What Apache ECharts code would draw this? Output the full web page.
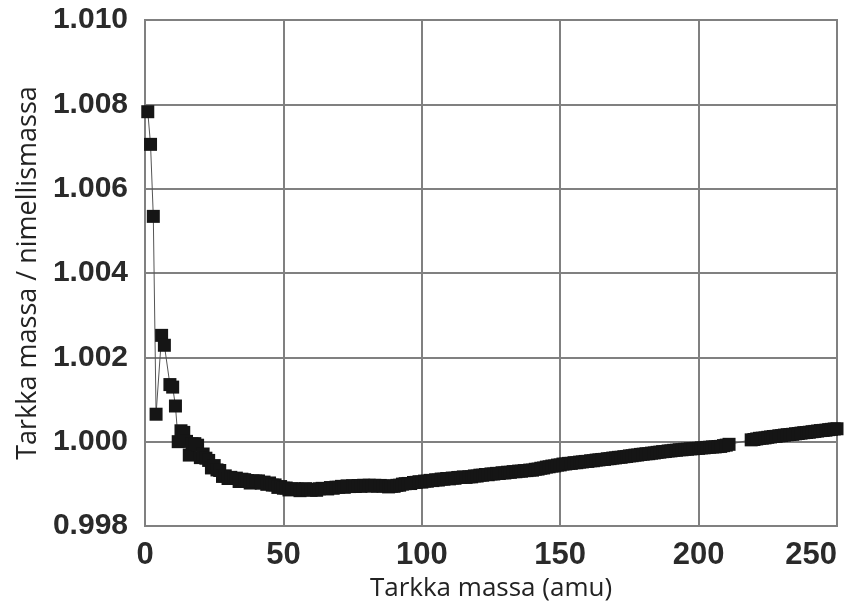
<!DOCTYPE html>
<html>
<head>
<meta charset="utf-8">
<script src="https://cdn.jsdelivr.net/npm/echarts@6/dist/echarts.min.js"></script>
<style>
  html, body { margin: 0; padding: 0; background: #ffffff; }
  #chart { width: 851px; height: 615px; }
</style>
</head>
<body>
<div id="chart"></div>
<script>
// Mass number (amu) of each nuclide
const massNumbers = [
  1, 2, 3, 4, 6, 7, 9, 10, 11, 12, 13, 14, 15, 16, 17, 18, 19, 20,
  21, 22, 23, 24, 25, 26, 27, 28, 29, 30, 31, 32, 33, 34, 35, 36, 37, 38, 39, 40,
  41, 42, 43, 44, 45, 46, 47, 48, 49, 50, 51, 52, 53, 54, 55, 56, 57, 58, 59, 60,
  61, 62, 63, 64, 65, 66, 67, 68, 69, 70, 71, 72, 73, 74, 75, 76, 77, 78, 79, 80,
  81, 82, 83, 84, 85, 86, 87, 88, 89, 90, 91, 92, 93, 94, 95, 96, 97, 98, 99, 100,
  101, 102, 103, 104, 105, 106, 107, 108, 109, 110, 111, 112, 113, 114, 115, 116, 117, 118, 119, 120,
  121, 122, 123, 124, 125, 126, 127, 128, 129, 130, 131, 132, 133, 134, 135, 136, 137, 138, 139, 140,
  141, 142, 143, 144, 145, 146, 147, 148, 149, 150, 151, 152, 153, 154, 155, 156, 157, 158, 159, 160,
  161, 162, 163, 164, 165, 166, 167, 168, 169, 170, 171, 172, 173, 174, 175, 176, 177, 178, 179, 180,
  181, 182, 183, 184, 185, 186, 187, 188, 189, 190, 191, 192, 193, 194, 195, 196, 197, 198, 199, 200,
  201, 202, 203, 204, 205, 206, 207, 208, 209, 210, 211,
  219, 220, 221, 222, 223, 224, 225, 226, 227, 228, 229, 230,
  231, 232, 233, 234, 235, 236, 237, 238, 239, 240,
  241, 242, 243, 244, 245, 246, 247, 248, 249, 250
];

// Exact mass divided by nominal mass, same order as massNumbers
const massRatio = [
  1.007825, 1.007051, 1.005343, 1.000651, 1.002521, 1.002286, 1.001354, 1.001294, 1.000846, 1.000000,
  1.000258, 1.000220, 1.000007, 0.999682, 0.999949, 0.999953, 0.999916, 0.999622,
  0.999707, 0.999608, 0.999555, 0.999377, 0.999433, 0.999330, 0.999316, 0.999176, 0.999189, 0.999126,
  0.999154, 0.999127, 0.999135, 0.999055, 0.999110, 0.999098, 0.999078, 0.999019, 0.999069, 0.999065,
  0.999069, 0.999015, 0.999041, 0.998988, 0.999020, 0.998970, 0.998974, 0.998915, 0.998936, 0.998896,
  0.998901, 0.998856, 0.998880, 0.998882, 0.998874, 0.998838, 0.998867, 0.998885, 0.998867, 0.998846,
  0.998870, 0.998847, 0.998882, 0.998893, 0.998889, 0.998879, 0.998912, 0.998895, 0.998921, 0.998918,
  0.998940, 0.998918, 0.998951, 0.998935, 0.998955, 0.998937, 0.998960, 0.998940, 0.998966, 0.998957,
  0.998967, 0.998945, 0.998965, 0.998947, 0.998962, 0.998945, 0.998953, 0.998927, 0.998942, 0.998941,
  0.998964, 0.998968, 0.998993, 0.999003, 0.999009, 0.999007, 0.999031, 0.999035, 0.999050, 0.999042,
  0.999065, 0.999062, 0.999082, 0.999077, 0.999096, 0.999090, 0.999113, 0.999110, 0.999126, 0.999118,
  0.999137, 0.999132, 0.999151, 0.999152, 0.999164, 0.999153, 0.999167, 0.999166, 0.999187, 0.999185,
  0.999205, 0.999205, 0.999221, 0.999216, 0.999235, 0.999233, 0.999248, 0.999246, 0.999262, 0.999258,
  0.999275, 0.999273, 0.999289, 0.999287, 0.999302, 0.999300, 0.999313, 0.999314, 0.999326, 0.999325,
  0.999345, 0.999350, 0.999369, 0.999376, 0.999397, 0.999405, 0.999421, 0.999425, 0.999444, 0.999449,
  0.999469, 0.999472, 0.999485, 0.999486, 0.999501, 0.999501, 0.999515, 0.999520, 0.999531, 0.999532,
  0.999547, 0.999548, 0.999563, 0.999568, 0.999578, 0.999580, 0.999594, 0.999598, 0.999611, 0.999616,
  0.999628, 0.999630, 0.999643, 0.999649, 0.999662, 0.999667, 0.999680, 0.999684, 0.999698, 0.999703,
  0.999713, 0.999715, 0.999728, 0.999733, 0.999746, 0.999752, 0.999763, 0.999766, 0.999779, 0.999782,
  0.999794, 0.999797, 0.999808, 0.999808, 0.999819, 0.999821, 0.999830, 0.999832, 0.999840, 0.999842,
  0.999853, 0.999854, 0.999864, 0.999868, 0.999875, 0.999876, 0.999884, 0.999888, 0.999906, 0.999918, 0.999937,
  1.000043, 1.000052, 1.000065, 1.000079, 1.000083, 1.000090, 1.000103, 1.000112, 1.000122, 1.000126,
  1.000139, 1.000144, 1.000155, 1.000164, 1.000170, 1.000175, 1.000187, 1.000193, 1.000203, 1.000213,
  1.000218, 1.000224, 1.000236, 1.000243, 1.000252, 1.000263, 1.000267, 1.000273, 1.000285, 1.000292,
  1.000301, 1.000306
];

// Axis tick values
const xTicks = [0, 50, 100, 150, 200, 250];
const yTicks = [0.998, 1.000, 1.002, 1.004, 1.006, 1.008, 1.010];

const points = massNumbers.map((a, i) => [a, massRatio[i]]);

const gridColor = '#808080';
const labelFont = '"Liberation Sans", Arial, sans-serif';
const titleFont = '"Open Sans", "Noto Sans", sans-serif';

const chart = echarts.init(document.getElementById('chart'), null, { renderer: 'canvas' });

chart.setOption({
  animation: false,
  backgroundColor: '#ffffff',
  grid: {
    left: 145, right: 14, top: 20, bottom: 89,
    show: true,
    borderColor: gridColor,
    borderWidth: 2,
    containLabel: false
  },
  xAxis: {
    type: 'value',
    min: xTicks[0],
    max: xTicks[xTicks.length - 1],
    interval: xTicks[1] - xTicks[0],
    name: 'Tarkka massa (amu)',
    nameLocation: 'middle',
    nameGap: 49,
    nameTextStyle: { fontFamily: titleFont, fontSize: 26, color: '#222222' },
    axisLine: { show: true, lineStyle: { color: gridColor, width: 2 } },
    axisTick: { show: false },
    axisLabel: {
      margin: 14,
      fontFamily: labelFont,
      fontWeight: 'bold',
      fontSize: 31,
      color: '#2a2a2a',
      alignMaxLabel: 'right'
    },
    splitLine: { show: true, lineStyle: { color: gridColor, width: 2 } }
  },
  yAxis: {
    type: 'value',
    min: yTicks[0],
    max: yTicks[yTicks.length - 1],
    interval: 0.002,
    name: 'Tarkka massa / nimellismassa',
    nameLocation: 'middle',
    nameGap: 99,
    nameTextStyle: { fontFamily: titleFont, fontSize: 27, color: '#222222' },
    axisLine: { show: true, lineStyle: { color: gridColor, width: 2 } },
    axisTick: { show: false },
    axisLabel: {
      margin: 17,
      fontFamily: labelFont,
      fontWeight: 'bold',
      fontSize: 30,
      color: '#2a2a2a',
      formatter: v => v.toFixed(3)
    },
    splitLine: { show: true, lineStyle: { color: gridColor, width: 2 } }
  },
  series: [{
    type: 'line',
    data: points,
    symbol: 'rect',
    symbolSize: 13,
    showAllSymbol: true,
    clip: true,
    itemStyle: { color: '#151515' },
    lineStyle: { color: '#555555', width: 1 },
    emphasis: { disabled: true }
  }]
});
</script>
</body>
</html>
